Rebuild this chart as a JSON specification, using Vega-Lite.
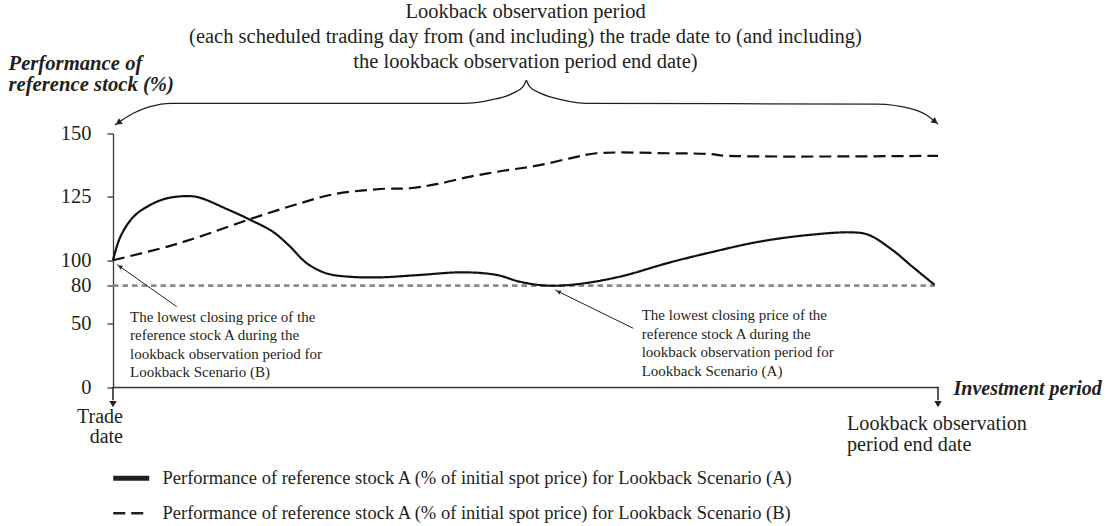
{
  "$schema": "https://vega.github.io/schema/vega-lite/v6.json",
  "width": 825,
  "height": 253.5,
  "autosize": "none",
  "padding": {"left": 113, "top": 133.5, "right": 169, "bottom": 139},
  "background": "white",
  "config": {"view": {"stroke": null}, "font": "Liberation Serif"},
  "encoding": {
    "x": {
      "field": "t",
      "type": "quantitative",
      "scale": {"domain": [0, 100], "nice": false, "zero": false},
      "axis": {
        "orient": "bottom",
        "title": "Investment period",
        "labels": false,
        "ticks": false,
        "grid": false,
        "domainColor": "#3c3435",
        "domainWidth": 1.3,
        "titleFont": "Liberation Serif",
        "titleFontStyle": "italic",
        "titleFontWeight": "bold",
        "titleFontSize": 20,
        "titleColor": "#231f20",
        "titleX": 840,
        "titleY": 7,
        "titleAlign": "left",
        "titleAnchor": "start",
        "titleBaseline": "alphabetic"
      }
    },
    "y": {
      "field": "v",
      "type": "quantitative",
      "scale": {"domain": [0, 50, 100, 125, 150], "range": [253.5, 190.125, 126.75, 63.375, 0], "nice": false, "zero": false},
      "axis": {
        "values": [0, 50, 80, 100, 125, 150],
        "title": ["Performance of", "reference stock (%)"],
        "titleAngle": 0,
        "titleX": -105,
        "titleY": -64.5,
        "titleAlign": "left",
        "titleAnchor": "start",
        "titleBaseline": "alphabetic",
        "titleLineHeight": 21,
        "titleFont": "Liberation Serif",
        "titleFontStyle": "italic",
        "titleFontWeight": "bold",
        "titleFontSize": 20.7,
        "titleColor": "#231f20",
        "grid": false,
        "tickSize": 6,
        "tickColor": "#3c3435",
        "tickWidth": 1.3,
        "domainColor": "#3c3435",
        "domainWidth": 1.3,
        "labelFont": "Liberation Serif",
        "labelFontSize": 20.5,
        "labelColor": "#231f20",
        "labelPadding": 16,
        "labelOverlap": false,
        "labelBound": false,
        "labelFlush": false
      }
    }
  },
  "layer": [
    {
      "data": {"values": [{"t": 0, "v": 80}, {"t": 99.6, "v": 80}]},
      "mark": {"type": "line", "color": "#8a8a8a", "strokeWidth": 2.6, "strokeDash": [5.5, 4]}
    },
    {
      "data": {"values": [
        {"t": 0, "v": 100, "s": "Performance of reference stock A (% of initial spot price) for Lookback Scenario (A)"},
        {"t": 0.9, "v": 109.3, "s": "Performance of reference stock A (% of initial spot price) for Lookback Scenario (A)"},
        {"t": 2.5, "v": 117.2, "s": "Performance of reference stock A (% of initial spot price) for Lookback Scenario (A)"},
        {"t": 4.5, "v": 121.8, "s": "Performance of reference stock A (% of initial spot price) for Lookback Scenario (A)"},
        {"t": 6.5, "v": 124.4, "s": "Performance of reference stock A (% of initial spot price) for Lookback Scenario (A)"},
        {"t": 9.1, "v": 125.3, "s": "Performance of reference stock A (% of initial spot price) for Lookback Scenario (A)"},
        {"t": 10.5, "v": 124.7, "s": "Performance of reference stock A (% of initial spot price) for Lookback Scenario (A)"},
        {"t": 13.8, "v": 120.2, "s": "Performance of reference stock A (% of initial spot price) for Lookback Scenario (A)"},
        {"t": 16.6, "v": 116.0, "s": "Performance of reference stock A (% of initial spot price) for Lookback Scenario (A)"},
        {"t": 19.4, "v": 111.2, "s": "Performance of reference stock A (% of initial spot price) for Lookback Scenario (A)"},
        {"t": 21.4, "v": 105.6, "s": "Performance of reference stock A (% of initial spot price) for Lookback Scenario (A)"},
        {"t": 23.5, "v": 97.6, "s": "Performance of reference stock A (% of initial spot price) for Lookback Scenario (A)"},
        {"t": 25.9, "v": 89.6, "s": "Performance of reference stock A (% of initial spot price) for Lookback Scenario (A)"},
        {"t": 28.7, "v": 87.0, "s": "Performance of reference stock A (% of initial spot price) for Lookback Scenario (A)"},
        {"t": 32.3, "v": 86.5, "s": "Performance of reference stock A (% of initial spot price) for Lookback Scenario (A)"},
        {"t": 37.2, "v": 88.4, "s": "Performance of reference stock A (% of initial spot price) for Lookback Scenario (A)"},
        {"t": 42.4, "v": 90.5, "s": "Performance of reference stock A (% of initial spot price) for Lookback Scenario (A)"},
        {"t": 46.5, "v": 88.4, "s": "Performance of reference stock A (% of initial spot price) for Lookback Scenario (A)"},
        {"t": 49.3, "v": 83.1, "s": "Performance of reference stock A (% of initial spot price) for Lookback Scenario (A)"},
        {"t": 52.5, "v": 80.0, "s": "Performance of reference stock A (% of initial spot price) for Lookback Scenario (A)"},
        {"t": 56.1, "v": 81.0, "s": "Performance of reference stock A (% of initial spot price) for Lookback Scenario (A)"},
        {"t": 61.4, "v": 87.0, "s": "Performance of reference stock A (% of initial spot price) for Lookback Scenario (A)"},
        {"t": 67.4, "v": 98.1, "s": "Performance of reference stock A (% of initial spot price) for Lookback Scenario (A)"},
        {"t": 72.3, "v": 103.0, "s": "Performance of reference stock A (% of initial spot price) for Lookback Scenario (A)"},
        {"t": 78.3, "v": 107.3, "s": "Performance of reference stock A (% of initial spot price) for Lookback Scenario (A)"},
        {"t": 84.4, "v": 110.0, "s": "Performance of reference stock A (% of initial spot price) for Lookback Scenario (A)"},
        {"t": 89.6, "v": 111.0, "s": "Performance of reference stock A (% of initial spot price) for Lookback Scenario (A)"},
        {"t": 91.6, "v": 110.0, "s": "Performance of reference stock A (% of initial spot price) for Lookback Scenario (A)"},
        {"t": 94.5, "v": 104.0, "s": "Performance of reference stock A (% of initial spot price) for Lookback Scenario (A)"},
        {"t": 96.9, "v": 94.9, "s": "Performance of reference stock A (% of initial spot price) for Lookback Scenario (A)"},
        {"t": 99.6, "v": 80.5, "s": "Performance of reference stock A (% of initial spot price) for Lookback Scenario (A)"},
        {"t": 0, "v": 100, "s": "Performance of reference stock A (% of initial spot price) for Lookback Scenario (B)"},
        {"t": 6.5, "v": 105.3, "s": "Performance of reference stock A (% of initial spot price) for Lookback Scenario (B)"},
        {"t": 10.5, "v": 109.3, "s": "Performance of reference stock A (% of initial spot price) for Lookback Scenario (B)"},
        {"t": 16.6, "v": 116.2, "s": "Performance of reference stock A (% of initial spot price) for Lookback Scenario (B)"},
        {"t": 22.7, "v": 122.5, "s": "Performance of reference stock A (% of initial spot price) for Lookback Scenario (B)"},
        {"t": 26.7, "v": 126.0, "s": "Performance of reference stock A (% of initial spot price) for Lookback Scenario (B)"},
        {"t": 32.4, "v": 128.1, "s": "Performance of reference stock A (% of initial spot price) for Lookback Scenario (B)"},
        {"t": 36.0, "v": 128.4, "s": "Performance of reference stock A (% of initial spot price) for Lookback Scenario (B)"},
        {"t": 39.2, "v": 130.0, "s": "Performance of reference stock A (% of initial spot price) for Lookback Scenario (B)"},
        {"t": 43.3, "v": 133.0, "s": "Performance of reference stock A (% of initial spot price) for Lookback Scenario (B)"},
        {"t": 47.3, "v": 135.3, "s": "Performance of reference stock A (% of initial spot price) for Lookback Scenario (B)"},
        {"t": 51.4, "v": 137.3, "s": "Performance of reference stock A (% of initial spot price) for Lookback Scenario (B)"},
        {"t": 55.4, "v": 140.2, "s": "Performance of reference stock A (% of initial spot price) for Lookback Scenario (B)"},
        {"t": 58.6, "v": 142.2, "s": "Performance of reference stock A (% of initial spot price) for Lookback Scenario (B)"},
        {"t": 67.5, "v": 142.2, "s": "Performance of reference stock A (% of initial spot price) for Lookback Scenario (B)"},
        {"t": 72.4, "v": 141.9, "s": "Performance of reference stock A (% of initial spot price) for Lookback Scenario (B)"},
        {"t": 74.4, "v": 141.2, "s": "Performance of reference stock A (% of initial spot price) for Lookback Scenario (B)"},
        {"t": 100, "v": 141.2, "s": "Performance of reference stock A (% of initial spot price) for Lookback Scenario (B)"}
      ]},
      "mark": {"type": "line", "color": "#111111", "strokeWidth": 2.2, "interpolate": "catmull-rom"},
      "encoding": {
        "strokeDash": {
          "field": "s",
          "type": "nominal",
          "scale": {
            "domain": [
              "Performance of reference stock A (% of initial spot price) for Lookback Scenario (A)",
              "Performance of reference stock A (% of initial spot price) for Lookback Scenario (B)"
            ],
            "range": [[1, 0], [12, 6]]
          },
          "legend": {
            "orient": "none",
            "legendX": 9,
            "legendY": 335.5,
            "direction": "vertical",
            "title": null,
            "padding": 0,
            "symbolType": "stroke",
            "symbolSize": 1296,
            "symbolStrokeColor": "#231f20",
            "symbolStrokeWidth": 2.5,
            "labelFont": "Liberation Serif",
            "labelFontSize": 18.5,
            "labelColor": "#231f20",
            "labelOffset": 22,
            "labelLimit": 1000,
            "rowPadding": 15,
            "encode": {
              "symbols": {
                "update": {
                  "strokeWidth": {"signal": "datum.index === 0 ? 5 : 2.5"},
                  "strokeDash": {"signal": "datum.index === 0 ? [1, 0] : [8, 6]"}
                }
              }
            }
          }
        }
      }
    },
    {
      "data": {"values": [
        {"t": 0.24, "v": 153.35, "seg": "L"},
        {"t": 2.46, "v": 157.97, "seg": "L"},
        {"t": 4.48, "v": 160.57, "seg": "L"},
        {"t": 7.04, "v": 161.91, "seg": "L"},
        {"t": 42.42, "v": 161.91, "seg": "L"},
        {"t": 45.7, "v": 163.2, "seg": "L"},
        {"t": 48.5, "v": 165.9, "seg": "L"},
        {"t": 49.7, "v": 168.5, "seg": "L"},
        {"t": 50.1, "v": 171.1, "seg": "L"},
        {"t": 50.1, "v": 171.1, "seg": "R"},
        {"t": 50.5, "v": 168.5, "seg": "R"},
        {"t": 51.8, "v": 165.9, "seg": "R"},
        {"t": 54.6, "v": 163.2, "seg": "R"},
        {"t": 57.4, "v": 161.9, "seg": "R"},
        {"t": 92.6, "v": 161.6, "seg": "R"},
        {"t": 96.6, "v": 159.9, "seg": "R"},
        {"t": 98.6, "v": 157.3, "seg": "R"},
        {"t": 100.0, "v": 153.7, "seg": "R"}
      ]},
      "mark": {"type": "line", "color": "#231f20", "strokeWidth": 1.3, "interpolate": "monotone"},
      "encoding": {"detail": {"field": "seg", "type": "nominal"}}
    },
    {
      "data": {"values": [{"t": 0.64, "v": 154.2}]},
      "mark": {"type": "point", "shape": "triangle-up", "filled": true, "color": "#231f20", "size": 50, "angle": 236, "opacity": 1}
    },
    {
      "data": {"values": [{"t": 99.65, "v": 154.7}]},
      "mark": {"type": "point", "shape": "triangle-up", "filled": true, "color": "#231f20", "size": 50, "angle": 128, "opacity": 1}
    },
    {
      "data": {"values": [{"t": 0, "v": 0, "v2": -10.5}, {"t": 100, "v": 0, "v2": -10.5}]},
      "mark": {"type": "rule", "color": "#231f20", "strokeWidth": 1.5},
      "encoding": {"y2": {"field": "v2"}}
    },
    {
      "data": {"values": [{"t": 0, "v": -13.5}, {"t": 100, "v": -13.5}]},
      "mark": {"type": "point", "shape": "triangle-down", "filled": true, "color": "#231f20", "size": 55, "opacity": 1}
    },
    {
      "data": {"values": [{"t": 7.72, "v": 63.4, "t2": 0.45, "v2": 96.8}, {"t": 63.07, "v": 46.3, "t2": 53.6, "v2": 76.5}]},
      "mark": {"type": "rule", "color": "#231f20", "strokeWidth": 1},
      "encoding": {"x2": {"field": "t2"}, "y2": {"field": "v2"}}
    },
    {
      "data": {"values": [{"t": 0.85, "v": 95.0}]},
      "mark": {"type": "point", "shape": "triangle-up", "filled": true, "color": "#231f20", "size": 22, "angle": 305, "opacity": 1}
    },
    {
      "data": {"values": [{"t": 54.0, "v": 75.1}]},
      "mark": {"type": "point", "shape": "triangle-up", "filled": true, "color": "#231f20", "size": 22, "angle": 296, "opacity": 1}
    },
    {
      "data": {"values": [
        {"t": 2.06, "v": 55.46, "label": "The lowest closing price of the\nreference stock A during the\nlookback observation period for\nLookback Scenario (B)"},
        {"t": 64.08, "v": 56.8, "label": "The lowest closing price of the\nreference stock A during the\nlookback observation period for\nLookback Scenario (A)"}
      ]},
      "mark": {"type": "text", "align": "left", "baseline": "middle", "font": "Liberation Serif", "fontSize": 15, "lineHeight": 18.5, "lineBreak": "\n", "color": "#231f20"},
      "encoding": {"text": {"field": "label"}}
    },
    {
      "data": {"values": [{"t": 50.0, "v": 197.93, "label": "Lookback observation period\n(each scheduled trading day from (and including) the trade date to (and including)\nthe lookback observation period end date)"}]},
      "mark": {"type": "text", "align": "center", "baseline": "middle", "font": "Liberation Serif", "fontSize": 20.5, "lineHeight": 25, "lineBreak": "\n", "color": "#231f20"},
      "encoding": {"text": {"field": "label"}}
    },
    {
      "data": {"values": [{"t": 1.21, "v": -23.3, "label": "Trade\ndate"}]},
      "mark": {"type": "text", "align": "right", "baseline": "middle", "font": "Liberation Serif", "fontSize": 20, "lineHeight": 20, "lineBreak": "\n", "color": "#231f20"},
      "encoding": {"text": {"field": "label"}}
    },
    {
      "data": {"values": [{"t": 88.97, "v": -29.2, "label": "Lookback observation\nperiod end date"}]},
      "mark": {"type": "text", "align": "left", "baseline": "middle", "font": "Liberation Serif", "fontSize": 20.2, "lineHeight": 21, "lineBreak": "\n", "color": "#231f20"},
      "encoding": {"text": {"field": "label"}}
    }
  ]
}
